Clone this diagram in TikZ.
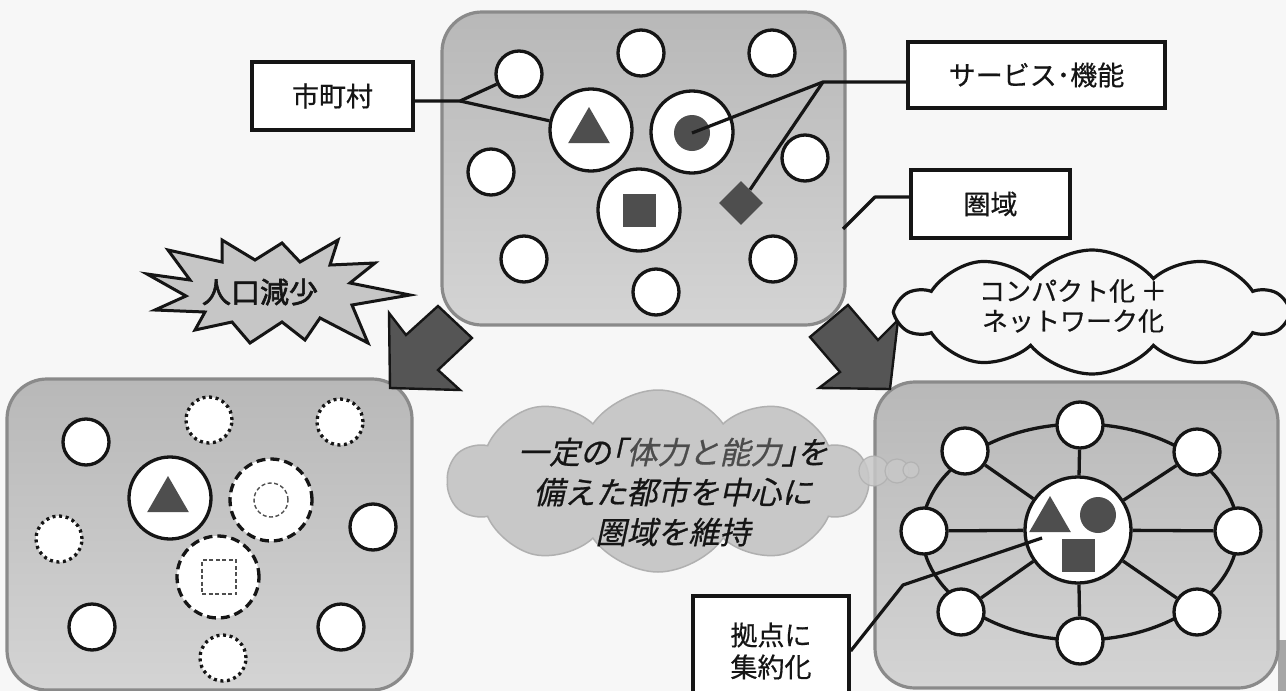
\documentclass[tikz,border=0pt]{standalone}
\usepackage{fontspec}
\newfontfamily\cjk[FakeBold=0.6]{Noto Sans CJK JP}
\newfontfamily\cjkbold[FakeBold=2.2]{Noto Sans CJK JP}
\newfontfamily\cjkit[FakeSlant=0.22,FakeBold=0.6]{Noto Sans CJK JP}
\usetikzlibrary{shapes.geometric,shapes.symbols}
\definecolor{bg}{HTML}{F7F7F7}
\definecolor{pborder}{HTML}{8A8A8A}
\definecolor{ptop}{HTML}{B8B8B8}
\definecolor{pbot}{HTML}{D4D4D4}
\definecolor{shp}{HTML}{4E4E4E}
\definecolor{arrowfill}{HTML}{555555}
\definecolor{burstfill}{HTML}{C6C6C6}
\definecolor{thought}{HTML}{C8C8C8}
\definecolor{thoughtline}{HTML}{B0B0B0}
\definecolor{ink}{HTML}{151515}
\tikzset{
  panel/.style={rounded corners=40pt, draw=pborder, line width=3.2pt, top color=ptop, bottom color=pbot, inner sep=0pt},
  town/.style={circle, draw=ink, line width=3.3pt, fill=white, minimum size=46pt, inner sep=0pt},
  bigtown/.style={town, minimum size=82pt},
  gonetown/.style={town, dash pattern=on 3pt off 3.6pt},
  weaktown/.style={bigtown, dash pattern=on 9pt off 5pt},
  hubtown/.style={town, minimum size=106pt},
  tri/.style={regular polygon, regular polygon sides=3, fill=shp, minimum size=48pt, inner sep=0pt},
  sq/.style={rectangle, fill=shp, minimum size=33pt, inner sep=0pt},
  dotshape/.style={circle, fill=shp, minimum size=36pt, inner sep=0pt},
  dia/.style={diamond, fill=shp, minimum size=44pt, inner sep=0pt},
  ghost/.style={draw=shp, line width=1.4pt, dash pattern=on 4pt off 2.5pt, inner sep=0pt, minimum size=34pt},
  lbl/.style={draw=ink, line width=3.4pt, fill=white, inner sep=0pt, text=ink, font=\cjk\fontsize{27}{32}\selectfont, align=center},
  conn/.style={draw=ink, line width=3.2pt, line join=round},
  bigarrow/.style={fill=arrowfill, draw=ink, line width=2.4pt, line join=miter},
  net/.style={draw=ink, line width=3.3pt},
}
\begin{document}
\begin{tikzpicture}[x=1pt,y=-1pt]
\useasboundingbox (0,0) rectangle (1286,691);
\fill[bg] (0,0) rectangle (1286,691);
\fill[gray!70] (1278,640) rectangle (1286,691);

% ---------------- top panel
\node[panel, minimum width=403pt, minimum height=313pt] (ptop) at (643.5,168.5) {};
\node[town] (a1) at (519,74) {};
\node[town] (a2) at (641,53) {};
\node[town] (a3) at (772,53) {};
\node[town] (a4) at (491,172) {};
\node[town] (a5) at (805,158) {};
\node[town] (a6) at (524,259) {};
\node[town] (a7) at (656,292) {};
\node[town] (a8) at (773,259) {};
\node[bigtown] (ab1) at (591,130) {};
\node[bigtown] (ab2) at (692,132) {};
\node[bigtown] (ab3) at (639,210) {};
\node[tri] (atri) at (589,131) {};
\node[dotshape] (adot) at (692,133) {};
\node[sq] (asq) at (639,210) {};
\node[dia] (adia) at (741,203) {};

% ---------------- bottom-left panel
\node[panel, minimum width=405pt, minimum height=311pt] (pleft) at (209.5,534.5) {};
\node[town] (b1) at (86,442) {};
\node[gonetown] (b2) at (209,420) {};
\node[gonetown] (b3) at (340,422) {};
\node[gonetown] (b4) at (59,539) {};
\node[town] (b5) at (373,527) {};
\node[town] (b6) at (92,627) {};
\node[town] (b7) at (341,627) {};
\node[gonetown] (b8) at (223,658) {};
\node[bigtown] (bb1) at (170,498) {};
\node[weaktown] (bb2) at (271,500) {};
\node[weaktown] (bb3) at (218,577) {};
\node[tri] (btri) at (168,500) {};
\node[ghost, circle] (bdot) at (271,500) {};
\node[ghost, rectangle] (bsq) at (219,577) {};

% ---------------- bottom-right panel
\node[panel, minimum width=403pt, minimum height=306pt] (pright) at (1076.5,535) {};
\draw[net] (1080,532) ellipse [x radius=158, y radius=108];
\node[town] (c1) at (1080,425) {};
\node[town] (c2) at (1197,452) {};
\node[town] (c3) at (1238,531) {};
\node[town] (c4) at (1197,612) {};
\node[town] (c5) at (1080,641) {};
\node[town] (c6) at (961,612) {};
\node[town] (c7) at (924,531) {};
\node[town] (c8) at (965,451) {};
\node[hubtown] (hub) at (1078,530) {};
\foreach \n in {c1,c2,c3,c4,c5,c6,c7,c8} \draw[net] (hub) -- (\n);
\node[tri] (htri) at (1050,520) {};
\node[dotshape] (hdot) at (1098,515) {};
\node[sq] (hsq) at (1078.5,555.5) {};

% ---------------- labels and leaders
\node[lbl, minimum width=161pt, minimum height=68pt] (lsc) at (332.5,96) {市町村};
\coordinate (j1) at (460,101);
\draw[conn] (lsc.east |- j1) -- (j1) -- (a1);
\draw[conn] (j1) -- (ab1);

\node[lbl, minimum width=257pt, minimum height=66pt] (lsv) at (1036.5,75) {サービス･機能};
\coordinate (j2) at (823,82);
\draw[conn] (lsv.west |- j2) -- (j2) -- (adot.center);
\draw[conn] (j2) -- (adia);

\node[lbl, minimum width=159pt, minimum height=68pt] (lkn) at (990.5,204) {圏域};
\coordinate (j3) at (875,197);
\coordinate (pe) at (843,229);
\draw[conn] (lkn.west |- j3) -- (j3) -- (pe);

\node[lbl, minimum width=156pt, minimum height=110pt] (lkt) at (771,651) {拠点に\\集約化};
\coordinate (j4) at (903,585);
\coordinate (hp) at (1042,538);
\draw[conn] (lkt.east) -- (j4) -- (hp);

% ---------------- big arrows
\draw[bigarrow] (438,306) -- (406,335) -- (389,313) -- (390,388) -- (460,390) -- (438,370) -- (472,338) -- cycle;
\draw[bigarrow] (848,305) -- (810,337) -- (840,372) -- (819,388) -- (890,389) -- (898,320) -- (878,340) -- cycle;

% ---------------- explosion
\draw[fill=burstfill, draw=ink, line width=3pt, line join=miter, miter limit=6]
  (147,274) -- (190,280) -- (168,250) -- (222,262) -- (222,240) -- (255,260) -- (282,243) -- (300,262)
  -- (338,240) -- (330,265) -- (375,263) -- (350,283) -- (410,295) -- (352,305) -- (368,343) -- (320,318)
  -- (305,340) -- (282,322) -- (250,343) -- (232,322) -- (195,330) -- (205,312) -- (155,310) -- (186,296) -- cycle;
\node[font=\cjkbold\fontsize{29}{32}\selectfont, text=ink] (burst) at (260,292) {人口減少};

% ---------------- cloud (compact + network)
\node[cloud, cloud puffs=10, cloud puff arc=100, cloud ignores aspect, minimum width=388pt, minimum height=124pt,
      draw=ink, line width=3.2pt, fill=bg] (cpt) at (1092,312) {};
\node[font=\cjk\fontsize{26}{30}\selectfont, text=ink, align=center] (cptt) at (1073,306) {コンパクト化 ＋\\ネットワーク化};

% ---------------- thought cloud
\node[cloud, cloud puffs=10, cloud puff arc=110, cloud ignores aspect, minimum width=420pt, minimum height=182pt,
      draw=thoughtline, line width=1.5pt, fill=thought] (thk) at (658,481) {};
\node[circle, fill=thought, draw=thoughtline, line width=1.2pt, minimum size=30pt, inner sep=0pt, opacity=0.85] (tb1) at (874,471) {};
\node[circle, fill=thought, draw=thoughtline, line width=1.2pt, minimum size=24pt, inner sep=0pt, opacity=0.85] (tb2) at (897,471) {};
\node[circle, fill=thought, draw=thoughtline, line width=1.2pt, minimum size=16pt, inner sep=0pt, opacity=0.85] (tb3) at (911,470) {};
\node[font=\cjkit\fontsize{31}{40}\selectfont, text=ink, align=center] (thkt) at (673,492)
  {一定の｢\textcolor{black!70}{体力と能力}｣を\\備えた都市を中心に\\圏域を維持};
\end{tikzpicture}
\end{document}
